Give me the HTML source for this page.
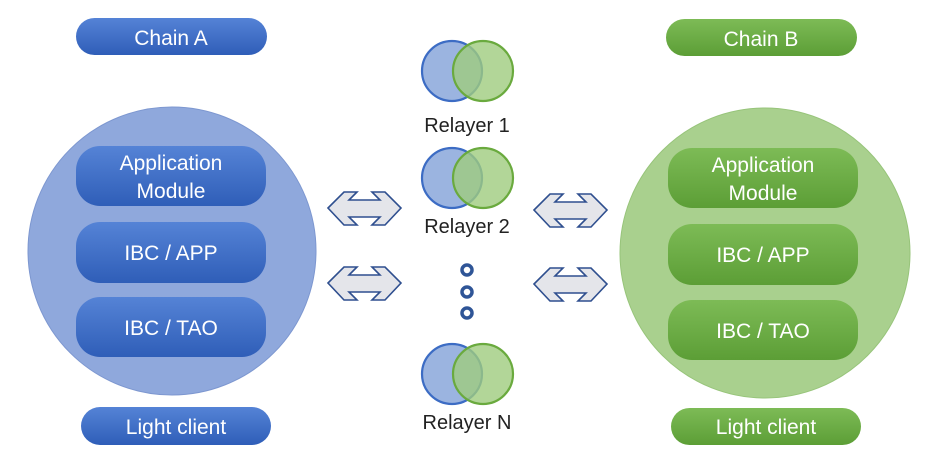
<!DOCTYPE html>
<html><head><meta charset="utf-8"><style>
html,body{margin:0;padding:0;background:#fff;}
svg{display:block;}
text{font-family:"Liberation Sans","DejaVu Sans",sans-serif;}
</style></head><body>
<svg width="949" height="472" viewBox="0 0 949 472" xmlns="http://www.w3.org/2000/svg">
<defs>
<linearGradient id="gb" x1="0" y1="0" x2="0" y2="1"><stop offset="0" stop-color="#5583d6"/><stop offset="1" stop-color="#2f5eb8"/></linearGradient>
<linearGradient id="gg" x1="0" y1="0" x2="0" y2="1"><stop offset="0" stop-color="#7dbb56"/><stop offset="1" stop-color="#5c9e36"/></linearGradient>
<g id="arr"><polygon points="0,16 16,0 29,0 21,8 52,8 44,0 57,0 73,16 57,33 44,33 52,25 21,25 29,33 16,33" fill="#e4e5ea" stroke="#2f4f8f" stroke-width="1.6" stroke-linejoin="miter"/></g>
<g id="venn">
<circle cx="0" cy="0" r="30" fill="#9bb4e0" stroke="#3c6cc4" stroke-width="2.2"/>
<circle cx="31" cy="0" r="30" fill="#9fcc7e" fill-opacity="0.8" stroke="#6aaa3e" stroke-width="2.2"/>
</g>
</defs>

<!-- Chain A -->
<rect x="76" y="18" width="191" height="37" rx="18.5" fill="url(#gb)"/>
<text x="171" y="45" font-size="21" fill="#fff" text-anchor="middle">Chain A</text>
<circle cx="172" cy="251" r="144" fill="#8fa8dc" stroke="#7d97d0" stroke-width="1"/>
<rect x="76" y="146" width="190" height="60" rx="24" fill="url(#gb)"/>
<text x="171" y="170" font-size="21" fill="#fff" text-anchor="middle">Application</text>
<text x="171" y="198" font-size="21" fill="#fff" text-anchor="middle">Module</text>
<rect x="76" y="222" width="190" height="61" rx="24" fill="url(#gb)"/>
<text x="171" y="260" font-size="21" fill="#fff" text-anchor="middle">IBC / APP</text>
<rect x="76" y="297" width="190" height="60" rx="24" fill="url(#gb)"/>
<text x="171" y="335" font-size="21" fill="#fff" text-anchor="middle">IBC / TAO</text>
<rect x="81" y="407" width="190" height="38" rx="19" fill="url(#gb)"/>
<text x="176" y="434" font-size="21" fill="#fff" text-anchor="middle">Light client</text>

<!-- Chain B -->
<rect x="666" y="19" width="191" height="37" rx="18.5" fill="url(#gg)"/>
<text x="761" y="46" font-size="21" fill="#fff" text-anchor="middle">Chain B</text>
<circle cx="765" cy="253" r="145" fill="#a9d08e" stroke="#97c47a" stroke-width="1"/>
<rect x="668" y="148" width="190" height="60" rx="24" fill="url(#gg)"/>
<text x="763" y="172" font-size="21" fill="#fff" text-anchor="middle">Application</text>
<text x="763" y="200" font-size="21" fill="#fff" text-anchor="middle">Module</text>
<rect x="668" y="224" width="190" height="61" rx="24" fill="url(#gg)"/>
<text x="763" y="262" font-size="21" fill="#fff" text-anchor="middle">IBC / APP</text>
<rect x="668" y="300" width="190" height="60" rx="24" fill="url(#gg)"/>
<text x="763" y="338" font-size="21" fill="#fff" text-anchor="middle">IBC / TAO</text>
<rect x="671" y="408" width="190" height="37" rx="18.5" fill="url(#gg)"/>
<text x="766" y="434" font-size="21" fill="#fff" text-anchor="middle">Light client</text>

<!-- arrows -->
<use href="#arr" x="328" y="192"/>
<use href="#arr" x="328" y="267"/>
<use href="#arr" x="534" y="194"/>
<use href="#arr" x="534" y="268"/>

<!-- relayers -->
<use href="#venn" x="452" y="71"/>
<text x="467" y="132" font-size="20" fill="#222" text-anchor="middle">Relayer 1</text>
<use href="#venn" x="452" y="178"/>
<text x="467" y="233" font-size="20" fill="#222" text-anchor="middle">Relayer 2</text>
<use href="#venn" x="452" y="374"/>
<text x="467" y="429" font-size="20" fill="#222" text-anchor="middle">Relayer N</text>

<circle cx="467" cy="270" r="5" fill="none" stroke="#2f5597" stroke-width="3.5"/>
<circle cx="467" cy="292" r="5" fill="none" stroke="#2f5597" stroke-width="3.5"/>
<circle cx="467" cy="313" r="5" fill="none" stroke="#2f5597" stroke-width="3.5"/>
</svg>
</body></html>
